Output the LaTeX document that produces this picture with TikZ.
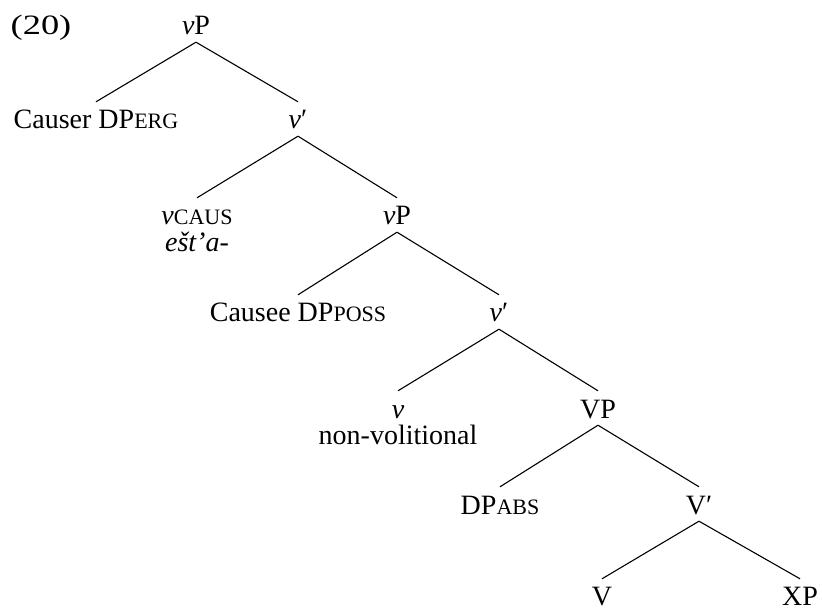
\documentclass[tikz,border=0pt]{standalone}
\usepackage{fontspec}
\setmainfont{Liberation Serif}
% faked small capitals for case labels
\newcommand\casesc[1]{{\fontsize{22}{24}\selectfont #1}}
\begin{document}
\begin{tikzpicture}[x=1pt,y=-1pt,
  every node/.style={font=\fontsize{28}{32}\selectfont},
  cat/.style={anchor=base,inner sep=2pt,text height=25pt,text depth=5pt},
  leaf/.style={anchor=base,inner sep=2pt,text height=24pt,text depth=0pt},
  gloss/.style={anchor=base,inner sep=0pt},
  branch/.style={line width=1.1pt}]
\useasboundingbox (0,0) rectangle (822,609);

\node[gloss] (ex) at (41,35) {\scalebox{1.3}[1]{(20)}};

% categories, placed by baseline
\node[cat] (vP1)    at (196,35)  {\textit{v}P};
\node[cat] (causer) at (96,129)  {Causer DP\casesc{ERG}};
\node[cat] (vbar1)  at (298,129) {\textit{v}′};
\node[cat] (vcaus)  at (197,225) {\textit{v}\casesc{CAUS}};
\node[gloss] (esta) at (197,252) {\textit{ešt’a-}};
\node[cat] (vP2)    at (397,225) {\textit{v}P};
\node[cat] (causee) at (298,322) {Causee DP\casesc{POSS}};
\node[cat] (vbar2)  at (499,322) {\textit{v}′};
\node[cat] (vnv)    at (398,418) {\textit{v}};
\node[gloss] (nonvol) at (398,445) {non-volitional};
\node[cat] (VP)     at (598,418) {VP};
\node[cat] (dpabs)  at (500,514) {DP\casesc{ABS}};
\node[cat] (Vbar)   at (699,514) {V′};
\node[leaf] (V)     at (602,605) {V};
\node[leaf] (XP)    at (800,605) {XP};

% branches
\draw[branch] (vP1.south) -- (causer.north);
\draw[branch] (vP1.south) -- (vbar1.north);
\draw[branch] (vbar1.south) -- (vcaus.north);
\draw[branch] (vbar1.south) -- (vP2.north);
\draw[branch] (vP2.south) -- (causee.north);
\draw[branch] (vP2.south) -- (vbar2.north);
\draw[branch] (vbar2.south) -- (vnv.north);
\draw[branch] (vbar2.south) -- (VP.north);
\draw[branch] (VP.south) -- (dpabs.north);
\draw[branch] (VP.south) -- (Vbar.north);
\draw[branch] (Vbar.south) -- (V.north);
\draw[branch] (Vbar.south) -- (XP.north);
\end{tikzpicture}
\end{document}
